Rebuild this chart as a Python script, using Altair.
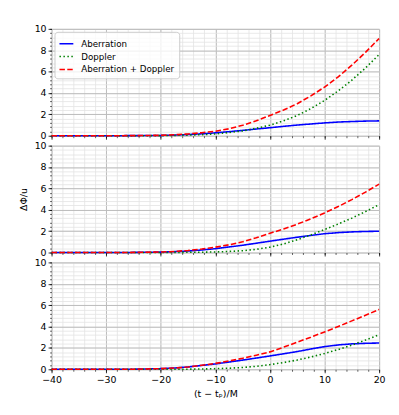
import altair as alt
import pandas as pd

X = [-40, -30, -25, -20, -17.5, -15, -12.5, -10, -7.5, -5, -2.5, 0, 2.5, 5, 7.5, 10, 12.5, 15, 17.5, 20]

P1_ab = [0, 0, 0.01, 0.03, 0.06, 0.11, 0.18, 0.27, 0.38, 0.5, 0.63, 0.75, 0.88, 1.0, 1.1, 1.2, 1.28, 1.33, 1.37, 1.39]
P1_dop = [0, 0, 0, 0.01, 0.03, 0.06, 0.1, 0.17, 0.3, 0.45, 0.7, 0.99, 1.39, 1.9, 2.54, 3.3, 4.19, 5.2, 6.34, 7.6]
P1_sum = [0, 0, 0.01, 0.04, 0.09, 0.17, 0.28, 0.42, 0.65, 0.98, 1.4, 1.9, 2.4, 3.0, 3.73, 4.55, 5.5, 6.6, 7.8, 9.1]

P2_ab = [0, 0, 0.01, 0.04, 0.08, 0.14, 0.24, 0.36, 0.52, 0.68, 0.87, 1.06, 1.25, 1.43, 1.6, 1.76, 1.86, 1.93, 1.97, 1.99]
P2_dop = [0, 0, 0, 0.005, 0.01, 0.02, 0.03, 0.05, 0.1, 0.17, 0.3, 0.5, 0.8, 1.2, 1.65, 2.15, 2.67, 3.22, 3.83, 4.48]
P2_sum = [0, 0, 0.01, 0.05, 0.1, 0.19, 0.33, 0.5, 0.72, 1.0, 1.38, 1.8, 2.2, 2.65, 3.15, 3.7, 4.3, 4.95, 5.65, 6.4]

P3_ab = [0, 0, 0.01, 0.06, 0.12, 0.22, 0.36, 0.5, 0.68, 0.86, 1.05, 1.25, 1.45, 1.66, 1.9, 2.12, 2.28, 2.38, 2.43, 2.46]
P3_dop = [0, 0, 0, 0, 0.005, 0.01, 0.03, 0.06, 0.1, 0.17, 0.28, 0.44, 0.63, 0.87, 1.15, 1.48, 1.85, 2.27, 2.73, 3.24]
P3_sum = [0, 0, 0.01, 0.06, 0.12, 0.22, 0.38, 0.55, 0.78, 1.03, 1.32, 1.63, 2.07, 2.54, 3.0, 3.5, 4.0, 4.53, 5.05, 5.6]

SERIES = ["Aberration", "Doppler", "Aberration + Doppler"]
COLORS = ["#0000ff", "#008000", "#ff0000"]
DASHES = [[1, 0], [1.5, 2.5], [5.5, 2.4]]

X_MAJOR = [-40, -30, -20, -10, 0, 10, 20]
X_MINOR = list(range(-40, 21, 2))
Y_MAJOR = [0, 2, 4, 6, 8, 10]
Y_MINOR = [round(0.4 * i, 1) for i in range(26)]

FONT = "DejaVu Sans"
FS = 9.5
LFS = 8.8


def frame(ab, dop, sm):
    rows = []
    for name, vals in zip(SERIES, [ab, dop, sm]):
        for x, v in zip(X, vals):
            rows.append({"x": x, "y": v, "series": name})
    return pd.DataFrame(rows)


def panel(ab, dop, sm, show_xlabels, ytitle, show_legend):
    df = frame(ab, dop, sm)
    xs = alt.Scale(domain=[-40, 20], nice=False, zero=False)
    ys = alt.Scale(domain=[0, 10], nice=False)
    minor = alt.Chart(df).mark_point(opacity=0).encode(
        x=alt.X("x:Q", scale=xs, axis=alt.Axis(
            values=X_MINOR, labels=False, title=None, domain=False,
            tickSize=2, tickColor="black", tickWidth=0.6,
            grid=True, gridColor="#e3e3e3", gridWidth=0.8, orient="bottom")),
        y=alt.Y("y:Q", scale=ys, axis=alt.Axis(
            values=Y_MINOR, labels=False, title=None, domain=False,
            tickSize=2, tickColor="black", tickWidth=0.6,
            grid=True, gridColor="#e3e3e3", gridWidth=0.8, orient="left")),
    )
    if show_legend:
        leg = alt.Legend(
            title=None, orient="top-left", offset=3, padding=4,
            fillColor="rgba(255,255,255,0.8)", strokeColor="#cccccc",
            cornerRadius=3, symbolType="stroke", symbolSize=196,
            symbolStrokeWidth=1.6, labelFont=FONT, labelFontSize=LFS,
            labelColor="black", labelOffset=7, rowPadding=-1,
            labelLimit=300)
    else:
        leg = None
    lines = alt.Chart(df).mark_line(strokeWidth=1.6).encode(
        x=alt.X("x:Q", scale=xs, axis=alt.Axis(
            values=X_MAJOR, labels=show_xlabels,
            title="(t − tₚ)/M" if show_xlabels else None,
            domain=False, tickSize=3.5, tickColor="black", tickWidth=0.8,
            grid=True, gridColor="#b0b0b0", gridWidth=0.8,
            labelFont=FONT, labelFontSize=FS, labelColor="black",
            titleFont=FONT, titleFontSize=FS, titleFontWeight="normal",
            titleColor="black", labelPadding=2, titlePadding=4,
            orient="bottom", labelFlush=False)),
        y=alt.Y("y:Q", scale=ys, axis=alt.Axis(
            values=Y_MAJOR, labels=True, title=ytitle if ytitle else None,
            domain=False, tickSize=3.5, tickColor="black", tickWidth=0.8,
            grid=True, gridColor="#b0b0b0", gridWidth=0.8,
            labelFont=FONT, labelFontSize=FS, labelColor="black",
            titleFont=FONT, titleFontSize=FS, titleFontWeight="normal",
            titleColor="black", labelPadding=2, titlePadding=6,
            orient="left")),
        color=alt.Color("series:N", scale=alt.Scale(domain=SERIES, range=COLORS), legend=leg),
        strokeDash=alt.StrokeDash("series:N", scale=alt.Scale(domain=SERIES, range=DASHES), legend=leg),
        order=alt.Order("x:Q"),
    )
    return alt.layer(minor, lines).resolve_axis(x="independent", y="independent").properties(width=331, height=108)


p1 = panel(P1_ab, P1_dop, P1_sum, False, None, True)
p2 = panel(P2_ab, P2_dop, P2_sum, False, "ΔΦ/u", False)
p3 = panel(P3_ab, P3_dop, P3_sum, True, None, False)

chart = alt.vconcat(p1, p2, p3, spacing=10, bounds="flush").resolve_legend(
    color="independent", strokeDash="independent"
).properties(
    padding={"left": 9, "top": 13, "right": 5, "bottom": 5}
).configure_view(stroke="black", strokeWidth=1).configure(background="white")

chart.save("out.html", embed_options={"renderer": "svg", "actions": False})
